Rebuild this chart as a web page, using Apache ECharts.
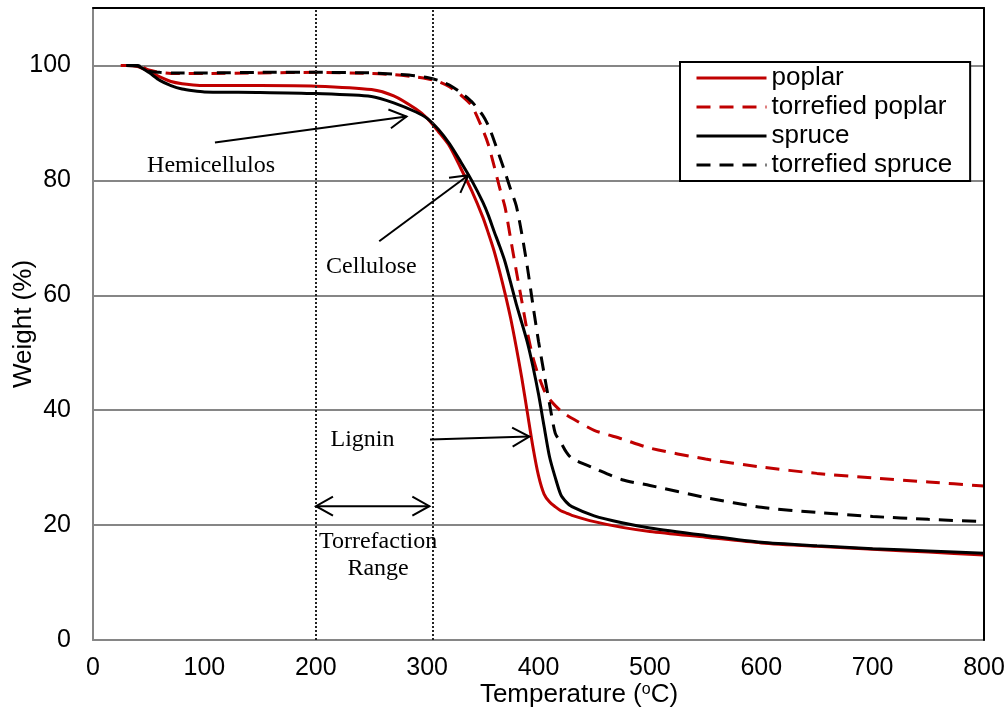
<!DOCTYPE html>
<html><head><meta charset="utf-8">
<script src="https://cdn.jsdelivr.net/npm/echarts@6/dist/echarts.min.js"></script>
<style>html,body{margin:0;padding:0;background:#fff}#c{width:1007px;height:715px}</style>
</head><body><div id="c"></div>
<script>
// ---------- data ----------
const temps = [25,30,40,50,60,70,80,90,100,150,200,250,270,290,300,310,320,330,340,350,355,360,365,370,375,380,385,390,395,400,405,410,415,420,425,430,450,475,500,550,600,650,700,750,800];
const poplar = [100,100,99.8,99.0,98.0,97.2,96.8,96.6,96.5,96.5,96.4,95.8,94.7,92.4,90.8,88.5,86.0,82.2,78.2,73.6,70.8,67.8,64.2,60.3,56.0,51.0,45.6,39.6,33.6,28.6,25.4,24.0,23.2,22.5,22.1,21.7,20.6,19.6,18.9,17.9,16.9,16.3,15.8,15.3,14.8];
const torrefiedPoplar = [100,100,100,99.2,98.8,98.6,98.6,98.6,98.6,98.7,98.8,98.6,98.4,98.0,97.7,97.2,96.3,94.9,93.0,88.8,86.2,82.6,78.8,75.3,69.8,64.3,59.0,53.6,49.2,46.0,43.5,41.9,40.8,39.9,39.2,38.6,36.5,35.0,33.4,31.5,30.1,29.0,28.2,27.5,26.8];
const spruce = [null,100,99.9,98.8,97.4,96.5,95.9,95.6,95.4,95.3,95.1,94.6,93.5,91.9,90.8,88.9,86.4,83.3,80.0,76.2,73.9,71.2,68.6,65.8,62.2,58.5,55.2,51.8,47.6,42.8,37.2,31.8,28.3,25.3,24.0,23.2,21.6,20.4,19.5,18.2,17.0,16.4,15.9,15.5,15.1];
const torrefiedSpruce = [null,100,100,99.0,98.8,98.7,98.7,98.7,98.7,98.8,98.8,98.7,98.5,98.2,97.9,97.4,96.6,95.3,93.7,91.3,89.5,87.0,84.2,81.4,78.4,75.6,70.7,64.9,58.3,52.0,46.4,41.0,36.0,34.4,32.7,31.6,29.9,27.9,26.9,24.8,23.1,22.2,21.5,21.0,20.6];
const seriesNames = ['poplar','torrefied poplar','spruce','torrefied spruce'];
const xTicks = {min:0, max:800, step:100};
const yTicks = {min:0, max:110, step:20, lastLabel:100};
const torrefactionRange = [200, 305];
// annotation anchors (data units)
const annoLabels = ['Hemicellulos','Cellulose','Lignin','Torrefaction\nRange'];
const annoLabelAt = [[106,82.6],[250,64.9],[242,34.8],[256,14.8]];
const arrowFrom = [[109.5,86.6],[257,69.4],[302.6,34.9],[200.2,23.3]];
const arrowTo   = [[281.5,91.1],[337,80.9],[391.8,35.4],[302,23.3]];
const arrowDouble = [false,false,false,true];

// ---------- chart ----------
const RED = '#C00000', GRAY = '#868686';
const SANS = '"Liberation Sans", Arial, sans-serif';
const SERIF = '"Liberation Serif", "Times New Roman", serif';
const pairs = arr => temps.map((t,i)=>[t,arr[i]]).filter(p=>p[1]!==null);
const chart = echarts.init(document.getElementById('c'), null, {renderer:'canvas'});
function mk(name, arr, color, dashed){
  return {
    name, type:'line', data:pairs(arr), symbol:'none', smooth:0.25,
    lineStyle:{color, width:3, type: dashed ? [14,9] : 'solid'},
    itemStyle:{color}, z:3, silent:true
  };
}
const series = [
  mk(seriesNames[0], poplar, RED, false),
  mk(seriesNames[1], torrefiedPoplar, RED, true),
  mk(seriesNames[2], spruce, '#000', false),
  mk(seriesNames[3], torrefiedSpruce, '#000', true)
];
series[0].markLine = {
  silent:true, symbol:'none', label:{show:false},
  lineStyle:{color:'#222', width:2, type:[2,2]},
  data: torrefactionRange.map(v=>({xAxis:v}))
};
chart.setOption({
  animation:false,
  backgroundColor:'#fff',
  grid:{left:93, right:23, top:8, bottom:75, containLabel:false, outerBoundsMode:'none'},
  legend:{
    orient:'vertical', left:680, top:62,
    data:seriesNames,
    itemWidth:70, itemHeight:14, itemGap:3,
    padding:[3,18,3,15],
    backgroundColor:'#fff', borderColor:'#000', borderWidth:2,
    itemStyle:{opacity:0},
    lineStyle:{width:3},
    textStyle:{fontSize:26, color:'#000', fontFamily:SANS}
  },
  xAxis:[{
    type:'value', min:xTicks.min, max:xTicks.max, interval:xTicks.step,
    axisLine:{show:true, onZero:false, lineStyle:{color:GRAY, width:2}},
    axisTick:{show:false}, splitLine:{show:false},
    axisLabel:{fontSize:25, color:'#000', fontFamily:SANS, margin:16},
    name:'Temperature ({s|o}C)', nameLocation:'middle', nameGap:42, nameMoveOverlap:false,
    nameTextStyle:{fontSize:26, color:'#000', fontFamily:SANS, padding:[0,0,0,81],
      rich:{s:{fontSize:16, color:'#000', fontFamily:SANS, verticalAlign:'top'}}}
  },{
    type:'value', position:'top', min:xTicks.min, max:xTicks.max, z:10,
    axisLine:{show:true, onZero:false, lineStyle:{color:'#000', width:2}},
    axisTick:{show:false}, axisLabel:{show:false}, splitLine:{show:false}
  }],
  yAxis:[{
    type:'value', min:yTicks.min, max:yTicks.max, interval:yTicks.step,
    axisLine:{show:true, onZero:false, lineStyle:{color:GRAY, width:2}},
    axisTick:{show:false},
    splitLine:{show:true, lineStyle:{color:GRAY, width:2}},
    axisLabel:{fontSize:25, color:'#000', fontFamily:SANS, margin:22,
      formatter:v=> v>yTicks.lastLabel ? '' : String(v)},
    name:'Weight (%)', nameLocation:'middle', nameGap:56, nameMoveOverlap:false,
    nameTextStyle:{fontSize:26, color:'#000', fontFamily:SANS}
  },{
    type:'value', position:'right', min:yTicks.min, max:yTicks.max, z:10,
    axisLine:{show:true, onZero:false, lineStyle:{color:'#000', width:2}},
    axisTick:{show:false}, axisLabel:{show:false}, splitLine:{show:false}
  }],
  series
});

// annotations placed through the axes' own scales
function toPx(p){ return chart.convertToPixel({xAxisIndex:0, yAxisIndex:0}, p); }
function head(tip, from){
  const dx=tip[0]-from[0], dy=tip[1]-from[1], L=Math.hypot(dx,dy);
  const ux=dx/L, uy=dy/L, nx=-uy, ny=ux, len=17, w=9.5;
  return [[tip[0]-ux*len+nx*w, tip[1]-uy*len+ny*w], tip, [tip[0]-ux*len-nx*w, tip[1]-uy*len-ny*w]];
}
const g = [];
const st = {stroke:'#000', lineWidth:2, fill:null};
arrowFrom.forEach((f,i)=>{
  const a = toPx(f), b = toPx(arrowTo[i]);
  g.push({type:'line', shape:{x1:a[0],y1:a[1],x2:b[0],y2:b[1]}, style:st, z:20, silent:true});
  g.push({type:'polyline', shape:{points:head(b,a)}, style:st, z:20, silent:true});
  if (arrowDouble[i]) g.push({type:'polyline', shape:{points:head(a,b)}, style:st, z:20, silent:true});
});
annoLabels.forEach((t,i)=>{
  const p = toPx(annoLabelAt[i]);
  g.push({type:'text', x:p[0], y:p[1], z:20, silent:true,
    style:{text:t, fill:'#000', fontSize:24, fontFamily:SERIF, align:'center', verticalAlign:'middle', lineHeight:27}});
});
chart.setOption({graphic:g});
</script></body></html>
